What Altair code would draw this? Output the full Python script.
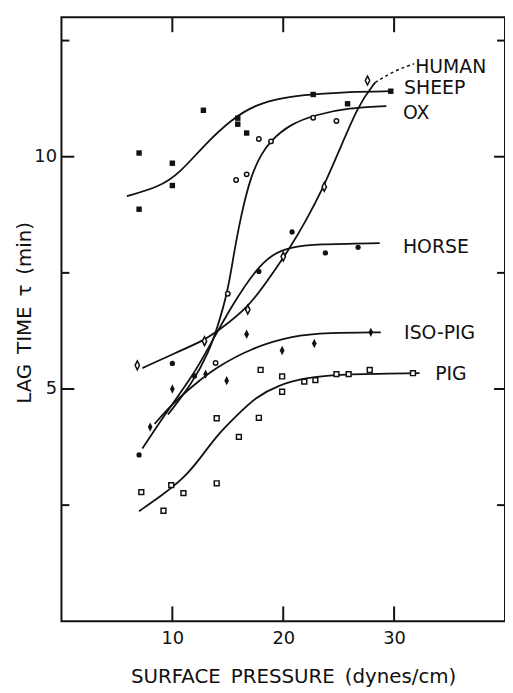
import altair as alt
import pandas as pd

INK = "#111111"
FONT = "DejaVu Sans"
SP = "\u2002"

# ---------------- data ----------------
# axis ticks
x_ticks = [10, 20, 30]
y_ticks = [5, 10]
y_minor = [2.5, 7.5, 12.5]

# measured points (surface pressure dynes/cm, lag time min)
sheep_x = [7.0, 7.0, 10.0, 10.0, 12.8, 15.9, 15.9, 16.7, 22.7, 25.8, 29.7]
sheep_y = [10.08, 8.87, 9.86, 9.38, 11.0, 10.83, 10.70, 10.51, 11.34, 11.14, 11.41]

ox_x = [15.0, 15.75, 16.7, 17.8, 18.9, 22.7, 24.8, 13.9]
ox_y = [7.05, 9.50, 9.62, 10.38, 10.33, 10.84, 10.77, 5.56]

horse_x = [7.0, 10.0, 12.0, 17.8, 20.8, 23.8, 26.75]
horse_y = [3.58, 5.55, 5.28, 7.53, 8.38, 7.93, 8.05]

human_x = [6.84, 12.9, 16.8, 20.0, 23.7, 27.6]
human_y = [5.51, 6.03, 6.71, 7.85, 9.35, 11.64]

iso_x = [8.0, 10.0, 13.0, 14.9, 16.7, 19.9, 22.8, 27.9]
iso_y = [4.18, 5.00, 5.32, 5.18, 6.18, 5.83, 5.98, 6.22]

pig_x = [7.2, 9.2, 9.9, 11.0, 14.0, 14.0, 16.0, 17.8, 17.96, 19.9, 19.9, 21.9, 22.9, 24.8, 25.9, 27.8, 31.7]
pig_y = [2.78, 2.38, 2.93, 2.76, 2.97, 4.37, 3.97, 4.38, 5.41, 5.27, 4.94, 5.16, 5.19, 5.32, 5.32, 5.41, 5.34]

# hand-drawn fitted curves
sheep_cx = [5.9, 8.8, 10.6, 12.95, 15.3, 17.5, 20.0, 22.7, 25.9, 29.7]
sheep_cy = [9.15, 9.35, 9.63, 10.27, 10.8, 11.12, 11.28, 11.34, 11.40, 11.41]

ox_cx = [9.6, 11.8, 13.3, 14.1, 15.0, 15.5, 16.2, 17.1, 18.0, 18.85, 20.6, 23.0, 25.9, 29.3]
ox_cy = [4.45, 5.12, 5.80, 6.35, 7.10, 7.85, 8.75, 9.60, 10.05, 10.34, 10.70, 10.91, 11.05, 11.09]

horse_cx = [7.3, 9.6, 11.9, 13.4, 15.5, 17.5, 19.0, 20.6, 23.0, 28.7]
horse_cy = [3.72, 4.55, 5.30, 5.95, 6.85, 7.56, 7.90, 8.05, 8.12, 8.14]

human_cx = [7.3, 10.3, 12.9, 14.4, 16.8, 18.5, 20.6, 22.0, 23.5, 25.0, 26.8, 28.3]
human_cy = [5.45, 5.78, 6.05, 6.30, 6.75, 7.30, 8.03, 8.60, 9.28, 10.10, 11.13, 11.60]
human_dx = [28.3, 30.0, 31.8]
human_dy = [11.60, 11.85, 12.00]

iso_cx = [8.4, 10.0, 12.0, 14.0, 17.1, 20.9, 24.0, 28.8]
iso_cy = [4.25, 4.68, 5.10, 5.47, 5.88, 6.15, 6.21, 6.22]

pig_cx = [7.0, 9.0, 11.0, 12.5, 14.0, 15.9, 17.5, 19.5, 22.0, 25.0, 32.3]
pig_cy = [2.37, 2.70, 3.07, 3.50, 4.00, 4.45, 4.82, 5.08, 5.24, 5.32, 5.34]

# series labels
label_text = ["HUMAN", "SHEEP", "OX", "HORSE", "ISO-PIG", "PIG"]
label_x = [31.9, 30.9, 30.8, 30.8, 30.9, 33.7]
label_y = [11.94, 11.47, 10.94, 8.06, 6.21, 5.32]

# ---------------- chart ----------------
W, H = 448, 610

xs = alt.Scale(domain=[0, 40], nice=False, zero=False)
ys = alt.Scale(domain=[0, 13], nice=False, zero=False)

x_axis = alt.Axis(values=x_ticks, ticks=False, domain=False, grid=False,
                  labelFontSize=18, labelPadding=8, labelFont=FONT, labelColor=INK,
                  title=f"SURFACE{SP}PRESSURE{SP}(dynes/cm)", titleFontSize=20, titleFont=FONT,
                  titleFontWeight="normal", titleColor=INK, titleX=234, titleY=62,
                  titleAlign="center", titleBaseline="alphabetic")
y_axis = alt.Axis(values=y_ticks, ticks=False, domain=False, grid=False,
                  labelFontSize=18, labelPadding=5, labelFont=FONT, labelColor=INK,
                  title=f"LAG{SP}TIME{SP}τ{SP}(min)", titleFontSize=20, titleFont=FONT,
                  titleFontWeight="normal", titleColor=INK, titleAngle=270,
                  titleX=-31, titleY=298, titleAlign="center", titleBaseline="alphabetic")


def X(f):
    return alt.X(f"{f}:Q", scale=xs, axis=x_axis)


def Y(f):
    return alt.Y(f"{f}:Q", scale=ys, axis=y_axis)


def pts(xv, yv):
    return pd.DataFrame({"x": xv, "y": yv})


DIAMOND = "M0,-1L0.5,0L0,1L-0.5,0Z"

layers = []

# curves
for cx, cy in [(sheep_cx, sheep_cy), (ox_cx, ox_cy), (horse_cx, horse_cy),
               (human_cx, human_cy), (iso_cx, iso_cy), (pig_cx, pig_cy)]:
    layers.append(alt.Chart(pts(cx, cy)).mark_line(
        color=INK, strokeWidth=1.8, interpolate="basis").encode(x=X("x"), y=Y("y")))
layers.append(alt.Chart(pts(human_dx, human_dy)).mark_line(
    color=INK, strokeWidth=1.5, strokeDash=[3, 3], interpolate="basis").encode(x=X("x"), y=Y("y")))

# markers
layers.append(alt.Chart(pts(sheep_x, sheep_y)).mark_point(
    shape="square", filled=True, size=30, color=INK, opacity=1).encode(x=X("x"), y=Y("y")))
layers.append(alt.Chart(pts(ox_x, ox_y)).mark_point(
    shape="circle", filled=False, size=20, strokeWidth=1.5, color=INK, fill="white", opacity=1).encode(x=X("x"), y=Y("y")))
layers.append(alt.Chart(pts(horse_x, horse_y)).mark_point(
    shape="circle", filled=True, size=28, color=INK, opacity=1).encode(x=X("x"), y=Y("y")))
layers.append(alt.Chart(pts(human_x, human_y)).mark_point(
    shape=DIAMOND, filled=False, size=80, strokeWidth=1.5, color=INK, fill="white", opacity=1).encode(x=X("x"), y=Y("y")))
layers.append(alt.Chart(pts(iso_x, iso_y)).mark_point(
    shape=DIAMOND, filled=True, size=90, color=INK, opacity=1).encode(x=X("x"), y=Y("y")))
layers.append(alt.Chart(pts(pig_x, pig_y)).mark_point(
    shape="square", filled=False, size=24, strokeWidth=1.5, color=INK, fill="white", opacity=1).encode(x=X("x"), y=Y("y")))

# labels
lab = pd.DataFrame({"x": label_x, "y": label_y, "t": label_text})
layers.append(alt.Chart(lab).mark_text(
    align="left", baseline="middle", fontSize=19, font=FONT, color=INK).encode(
    x=X("x"), y=Y("y"), text="t:N"))

# inward ticks
xt = pd.DataFrame({"v": x_ticks})
yt = pd.DataFrame({"v": y_ticks})
ym = pd.DataFrame({"v": y_minor})
rule = dict(color=INK, strokeWidth=2)
layers.append(alt.Chart(xt).mark_rule(**rule).encode(x=X("v"), y=alt.value(H - 15), y2=alt.value(H)))
layers.append(alt.Chart(xt).mark_rule(**rule).encode(x=X("v"), y=alt.value(0), y2=alt.value(15)))
layers.append(alt.Chart(yt).mark_rule(**rule).encode(y=Y("v"), x=alt.value(0), x2=alt.value(13)))
layers.append(alt.Chart(yt).mark_rule(**rule).encode(y=Y("v"), x=alt.value(W - 11), x2=alt.value(W)))
layers.append(alt.Chart(ym).mark_rule(**rule).encode(y=Y("v"), x=alt.value(0), x2=alt.value(8)))
layers.append(alt.Chart(ym).mark_rule(**rule).encode(y=Y("v"), x=alt.value(W - 8), x2=alt.value(W)))

chart = alt.layer(*layers).properties(
    width=W, height=H,
    padding={"left": 54, "top": 6, "right": 0, "bottom": 69},
    autosize=alt.AutoSizeParams(type="none"),
    background="white",
).configure_view(stroke=INK, strokeWidth=2)

chart.save("out.html", embed_options={"renderer": "svg", "actions": False})
